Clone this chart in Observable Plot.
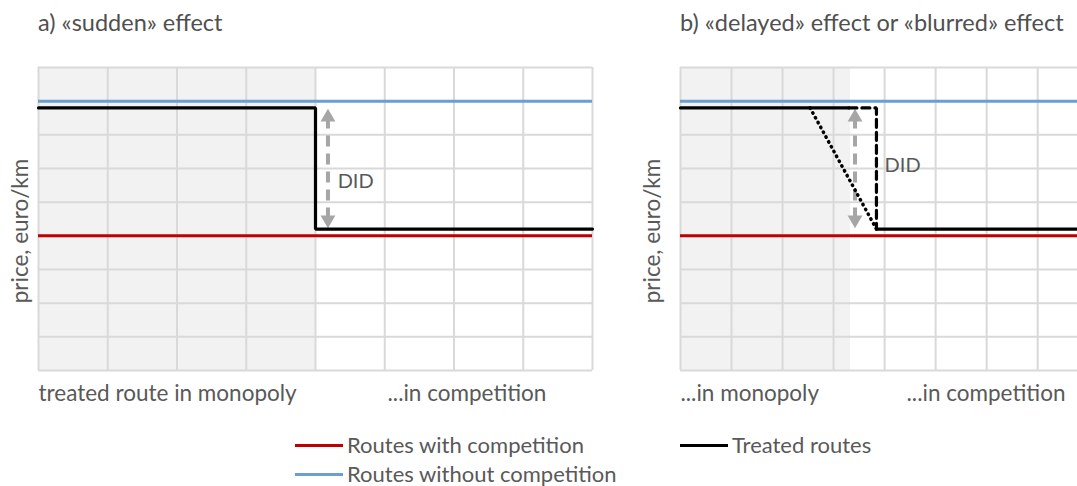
<!DOCTYPE html>
<html>
<head>
<meta charset="utf-8">
<script src="https://cdn.jsdelivr.net/npm/d3@7"></script>
<script src="https://cdn.jsdelivr.net/npm/@observablehq/plot@0.6"></script>
<style>
  html, body { margin: 0; padding: 0; background: #fff; }
  #root { position: relative; width: 1077px; height: 486px; overflow: hidden; font-family: Lato, "Open Sans", sans-serif; color: #595959; }
  .panel { position: absolute; top: 0; }
  .ptitle { position: absolute; top: 8px; font-size: 23.5px; line-height: 1.2; color: #505050; white-space: nowrap; }
  .legend { position: absolute; font-size: 22px; line-height: 22px; color: #595959; white-space: nowrap; display: flex; align-items: center; }
  .legend .sw { display: inline-block; width: 48px; height: 3px; margin-right: 4px; }
</style>
</head>
<body>
<div id="root"></div>
<script>
// ---- data ----
const panelTitles = ["a) «sudden» effect", "b) «delayed» effect or «blurred» effect"];
const yLabel = "price, euro/km";
const xGridA = [0, 1, 2, 3, 4, 5, 6, 7, 8];
const xGridB = [0, 1, 2, 3, 4, 5, 6, 7];
const yGrid = [0, 1, 2, 3, 4, 5, 6, 7, 8, 9];
const priceCompetition = 4;      // red
const priceNoCompetition = 8;    // blue
const treatedBefore = 7.8;
const treatedAfter = 4.2;
// panel a
const monopolyEndA = 4;
const stepA = 4;
const didXA = 4.18;
const bottomLabelsA = ["treated route in monopoly", "...in competition"];
const bottomLabelXA = [0, 5.04];
// panel b
const monopolyEndB = 3.33;
const blurStartB = 2.54;
const solidEndB = 3.3;
const stepB = 3.84;
const didXB = 3.42;
const bottomLabelsB = ["...in monopoly", "...in competition"];
const bottomLabelXB = [0, 4.43];
const didLabel = "DID";
const didTop = 7.5, didBottom = 4.5;
const legendItems = [
  {label: "Routes with competition", color: "#c00000"},
  {label: "Routes without competition", color: "#6a9fd2"},
  {label: "Treated routes", color: "#000000"}
];

const C = {red: "#c00000", blue: "#6a9fd2", grid: "#d9d9d9", shade: "#f2f2f2", arrow: "#a6a6a6", text: "#595959"};

function panel({xMax, xGrid, monopolyEnd, treatedSolid, treatedDashed, treatedDotted, didX, didLabelX, didLabelY, bottomLabels, bottomLabelX, width, marginLeft, marginRight, yLabelDx}) {
  const marks = [
    Plot.rect([{x1: 0, x2: monopolyEnd, y1: 0, y2: 9}], {x1: "x1", x2: "x2", y1: "y1", y2: "y2", fill: C.shade}),
    Plot.ruleX(xGrid, {y1: 0, y2: 9, stroke: C.grid, strokeWidth: 2}),
    Plot.ruleY(yGrid, {x1: 0, x2: xMax, stroke: C.grid, strokeWidth: 2}),
    Plot.ruleY([priceNoCompetition], {x1: 0, x2: xMax, stroke: C.blue, strokeWidth: 3}),
    Plot.ruleY([priceCompetition], {x1: 0, x2: xMax, stroke: C.red, strokeWidth: 3}),
    Plot.ruleX([didX], {y1: didTop, y2: didBottom, stroke: C.arrow, strokeWidth: 4, strokeDasharray: "11,7"}),
    Plot.dot([{x: didX, y: didTop + 0.02}], {x: "x", y: "y", symbol: "triangle", r: 5.5, fill: C.arrow, stroke: "none"}),
    Plot.dot([{x: didX, y: didBottom - 0.02}], {x: "x", y: "y", symbol: "triangle", r: 5.5, fill: C.arrow, stroke: "none", rotate: 180}),
    Plot.text([didLabel], {x: didLabelX, y: didLabelY, text: d => d, textAnchor: "start", fill: C.text, fontSize: 20}),
  ];
  for (const seg of treatedSolid) marks.push(Plot.line(seg, {x: "x", y: "y", stroke: "#000", strokeWidth: 3.2, strokeLinejoin: "miter"}));
  if (treatedDashed) marks.push(Plot.line(treatedDashed, {x: "x", y: "y", stroke: "#000", strokeWidth: 3.2, strokeDasharray: "8,5", strokeLinejoin: "miter"}));
  if (treatedDotted) marks.push(Plot.line(treatedDotted, {x: "x", y: "y", stroke: "#000", strokeWidth: 3.5, strokeDasharray: "0.5,5", strokeLinecap: "round"}));
  marks.push(
    Plot.text(bottomLabels, {x: (d, i) => bottomLabelX[i], frameAnchor: "bottom", dy: 30, lineAnchor: "bottom", textAnchor: "start", text: d => d, fill: C.text, fontSize: 22.5}),
    Plot.text([yLabel], {frameAnchor: "left", rotate: -90, dx: yLabelDx, dy: 12, textAnchor: "middle", text: d => d, fill: C.text, fontSize: 22.5})
  );
  return Plot.plot({
    width, height: 420,
    marginTop: 67, marginBottom: 50, marginLeft, marginRight,
    x: {domain: [0, xMax], axis: null},
    y: {domain: [0, 9], axis: null},
    style: {fontFamily: "Lato, 'Open Sans', sans-serif", background: "transparent", overflow: "visible"},
    marks
  });
}

const root = document.getElementById("root");

const A = panel({
  xMax: 8, xGrid: xGridA, monopolyEnd: monopolyEndA,
  treatedSolid: [[{x: 0, y: treatedBefore}, {x: stepA, y: treatedBefore}, {x: stepA, y: treatedAfter}, {x: 8, y: treatedAfter}]],
  didX: didXA, didLabelX: 4.32, didLabelY: 5.6,
  bottomLabels: bottomLabelsA, bottomLabelX: bottomLabelXA,
  width: 600, marginLeft: 38, marginRight: 8, yLabelDx: -18
});
const dA = document.createElement("div"); dA.className = "panel"; dA.style.left = "0px"; dA.appendChild(A); root.appendChild(dA);

const xMaxB = 7.78;
const B = panel({
  xMax: xMaxB, xGrid: xGridB, monopolyEnd: monopolyEndB,
  treatedSolid: [
    [{x: 0, y: treatedBefore}, {x: solidEndB, y: treatedBefore}],
    [{x: stepB, y: treatedAfter}, {x: xMaxB, y: treatedAfter}]
  ],
  treatedDashed: [{x: solidEndB, y: treatedBefore}, {x: stepB, y: treatedBefore}, {x: stepB, y: treatedAfter}],
  treatedDotted: [{x: blurStartB, y: treatedBefore}, {x: stepB, y: treatedAfter}],
  didX: didXB, didLabelX: 4.0, didLabelY: 6.1,
  bottomLabels: bottomLabelsB, bottomLabelX: bottomLabelXB,
  width: 437, marginLeft: 40, marginRight: 0, yLabelDx: -28
});
const dB = document.createElement("div"); dB.className = "panel"; dB.style.left = "640px"; dB.appendChild(B); root.appendChild(dB);

// titles
[[panelTitles[0], 38], [panelTitles[1], 680]].forEach(([t, x]) => {
  const d = document.createElement("div"); d.className = "ptitle"; d.textContent = t; d.style.left = x + "px"; root.appendChild(d);
});

// legend
const legendPos = [[295, 434], [295, 463], [680, 434]];
legendItems.forEach((it, i) => {
  const d = document.createElement("div"); d.className = "legend";
  d.style.left = legendPos[i][0] + "px"; d.style.top = legendPos[i][1] + "px";
  const sw = document.createElement("span"); sw.className = "sw"; sw.style.background = it.color;
  const tx = document.createElement("span"); tx.textContent = it.label;
  d.appendChild(sw); d.appendChild(tx); root.appendChild(d);
});
</script>
</body>
</html>
